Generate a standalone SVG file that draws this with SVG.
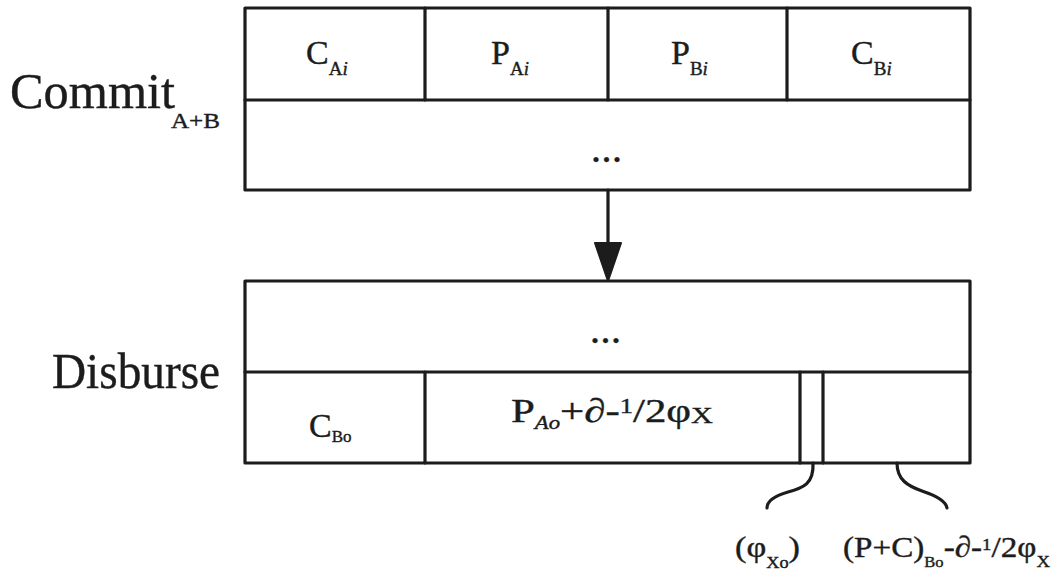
<svg xmlns="http://www.w3.org/2000/svg" width="1055" height="575" viewBox="0 0 1055 575">
<style>
.ln{fill:none;stroke:#1c1c1c;stroke-width:3.2;stroke-linejoin:round;stroke-linecap:round}
text{font-family:"Liberation Serif","DejaVu Serif",serif;fill:#1c1c1c;stroke:#1c1c1c;stroke-width:0.4}
.big{font-size:50px}
.cell{font-size:34px}
.sub{font-size:19px}
.lab{font-size:30px}
.dots{font-size:30px;font-weight:bold;letter-spacing:3px}
</style>
<rect width="1055" height="575" fill="#ffffff"/>
<g id="label-commit">
<text class="big" x="10" y="108" textLength="165" lengthAdjust="spacingAndGlyphs">Commit</text>
<text x="171" y="128" font-size="22" textLength="49" lengthAdjust="spacingAndGlyphs">A+B</text>
</g>
<g id="label-disburse">
<text class="big" x="52" y="388" textLength="168" lengthAdjust="spacingAndGlyphs">Disburse</text>
</g>
<g id="commit-block">
<rect class="ln" x="245" y="8" width="725" height="182"/>
<line class="ln" x1="245" y1="100" x2="970" y2="100"/>
<line class="ln" x1="425" y1="8" x2="425" y2="100"/>
<line class="ln" x1="608" y1="8" x2="608" y2="100"/>
<line class="ln" x1="787" y1="8" x2="787" y2="100"/>
<text class="cell" x="306" y="64">C<tspan class="sub" dy="11">A<tspan font-style="italic">i</tspan></tspan></text>
<text class="cell" x="491" y="64">P<tspan class="sub" dy="11">A<tspan font-style="italic">i</tspan></tspan></text>
<text class="cell" x="671" y="64">P<tspan class="sub" dy="11">B<tspan font-style="italic">i</tspan></tspan></text>
<text class="cell" x="851" y="64">C<tspan class="sub" dy="11">B<tspan font-style="italic">i</tspan></tspan></text>
<text class="dots" x="608" y="162" text-anchor="middle">...</text>
</g>
<g id="disburse-block">
<rect class="ln" x="245" y="281" width="725" height="182"/>
<line class="ln" x1="245" y1="372" x2="970" y2="372"/>
<line class="ln" x1="425" y1="372" x2="425" y2="463"/>
<line class="ln" x1="800" y1="372" x2="800" y2="463"/>
<line class="ln" x1="823" y1="372" x2="823" y2="463"/>
<text class="dots" x="607" y="343" text-anchor="middle">...</text>
<text class="cell" x="309" y="437">C<tspan font-size="17" dy="5">Bo</tspan></text>
<text x="511" y="422" font-size="34" textLength="202" lengthAdjust="spacingAndGlyphs">P<tspan font-size="18" dy="7" font-style="italic">Ao</tspan><tspan dy="-7">+∂-</tspan><tspan font-size="21" dy="-9">1</tspan><tspan dy="9">/2φ</tspan><tspan font-size="24" dy="1">X</tspan></text>
</g>
<g id="connectors">
<line class="ln" x1="608" y1="190" x2="608" y2="244"/>
<polygon points="595,243 621,243 608,281" fill="#1c1c1c" stroke="#1c1c1c" stroke-width="2" stroke-linejoin="round"/>
<path class="ln" d="M813,463 C814,484 803,488 788,492 C774,496 767,502 767,508"/>
<path class="ln" d="M897,463 C897,480 908,486 922,491 C937,496 946,501 947,508"/>
</g>
<g id="label-phi">
<text class="lab" x="735" y="557" textLength="65" lengthAdjust="spacingAndGlyphs">(φ<tspan font-size="16" dy="11">Xo</tspan><tspan dy="-11">)</tspan></text>
</g>
<g id="label-pc">
<text class="lab" x="843" y="557" textLength="207" lengthAdjust="spacingAndGlyphs">(P+C)<tspan font-size="15" dy="10">Bo</tspan><tspan dy="-10">-∂-</tspan><tspan font-size="17" dy="-7">1</tspan><tspan dy="7">/2φ</tspan><tspan font-size="17" dy="10">X</tspan></text>
</g>
</svg>
